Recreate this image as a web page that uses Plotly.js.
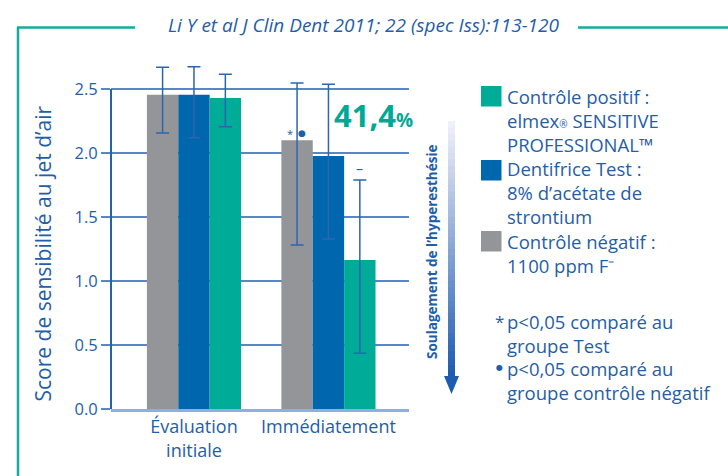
<!DOCTYPE html>
<html>
<head>
<meta charset="utf-8">
<script src="https://cdn.plot.ly/plotly-3.0.1.min.js"></script>
<style>
html,body{margin:0;padding:0;background:#fff;}
#chart{width:728px;height:476px;}
</style>
</head>
<body>
<div id="chart"></div>
<script>
// ---- data ----
var categories = ["Évaluation<br>initiale", "Immédiatement"];
var seriesNames = ["Contrôle négatif", "Dentifrice Test", "Contrôle positif"];
var negValues  = [2.455, 2.10];
var testValues = [2.455, 1.977];
var posValues  = [2.43, 1.164];
var negUpper  = [2.67, 2.547];
var negLower  = [2.156, 1.281];
var testUpper = [2.674, 2.537];
var testLower = [2.12, 1.328];
var posUpper  = [2.615, 1.789];
var posLower  = [2.205, 0.435];
var yTicks = [0, 0.5, 1.0, 1.5, 2.0, 2.5];
var yTickLabels = ["0.0", "0.5", "1.0", "1.5", "2.0", "2.5"];
var yTitle = "Score de sensibilité au jet d’air";

// ---- styles ----
var cGray = "#949599", cBlue = "#0066ae", cTeal = "#00ab97";
var txt = "#1f5ea8";
var errColor = "#2b66b0";
var FONT = "Open Sans, sans-serif";

// plot area in pixels (y range 0..2.75, 2.5 at pixel 89)
var L = 111, R = 409, T = 57, B = 409, W = 728, H = 476;
function px(x){ return (x - L) / (R - L); }
function py(y){ return (B - y) / (B - T); }

var xIdx = [0, 1];
function diff(a, b){ return a.map(function(v,i){ return Math.abs(v - b[i]); }); }

function barTrace(name, vals, up, lo, color){
  return {
    type: "bar", name: name, x: xIdx, y: vals, marker: {color: color},
    error_y: {type: "data", symmetric: false, array: diff(up, vals), arrayminus: diff(vals, lo),
              color: errColor, thickness: 1.5, width: 6.5},
    hoverinfo: "y"
  };
}

var data = [
  barTrace(seriesNames[0], negValues, negUpper, negLower, cGray),
  barTrace(seriesNames[1], testValues, testUpper, testLower, cBlue),
  barTrace(seriesNames[2], posValues, posUpper, posLower, cTeal)
];

var shapes = [];
// y axis line (only up to the top tick)
shapes.push({type:"line", xref:"paper", yref:"y", x0:0, x1:0, y0:0, y1:yTicks[yTicks.length-1], line:{color:"#2462ad", width:2}});
// teal frame
shapes.push({type:"line", xref:"paper", yref:"paper", x0:px(18), x1:px(18), y0:py(27), y1:py(476), line:{color:"#13ad9b", width:2.5}});
shapes.push({type:"line", xref:"paper", yref:"paper", x0:px(17), x1:px(135), y0:py(27.5), y1:py(27.5), line:{color:"#13ad9b", width:2.5}});
shapes.push({type:"line", xref:"paper", yref:"paper", x0:px(578), x1:px(728), y0:py(27.5), y1:py(27.5), line:{color:"#13ad9b", width:2.5}});

// gradient arrow
var arrTop = 121, arrBot = 377, nSeg = 40;
var c0 = [240, 240, 250], c1 = [30, 92, 176];
for (var i = 0; i < nSeg; i++){
  var f = i / (nSeg - 1);
  var col = "rgb(" + c0.map(function(v,k){ return Math.round(v + (c1[k]-v)*f); }).join(",") + ")";
  var ya = arrTop + (arrBot - arrTop) * i / nSeg, yb = arrTop + (arrBot - arrTop) * (i + 1) / nSeg + 0.6;
  shapes.push({type:"rect", xref:"paper", yref:"paper", x0:px(448), x1:px(455), y0:py(ya), y1:py(yb), line:{width:0}, fillcolor:col});
}
shapes.push({type:"path", xref:"paper", yref:"paper",
  path:"M " + px(444) + " " + py(376) + " L " + px(459) + " " + py(376) + " L " + px(451.5) + " " + py(394) + " Z",
  fillcolor:"#1d5cb0", line:{width:0}});

// legend squares
var legItems = [
  {color:cTeal, y0:86, text:"Contrôle positif :<br>elmex<span style='font-size:10px'>®</span> SENSITIVE<br>PROFESSIONAL™", cy:121},
  {color:cBlue, y0:160, text:"Dentifrice Test :<br>8% d’acétate de<br>strontium", cy:192.5},
  {color:cGray, y0:231, text:"Contrôle négatif :<br>1100 ppm F⁻", cy:253.5}
];
var annotations = [];
legItems.forEach(function(it){
  shapes.push({type:"rect", xref:"paper", yref:"paper", x0:px(481), x1:px(501.5), y0:py(it.y0), y1:py(it.y0+20.5), line:{width:0}, fillcolor:it.color});
  annotations.push({xref:"paper", yref:"paper", x:px(505), y:py(it.cy), xanchor:"left", yanchor:"middle", align:"left",
    text:it.text, showarrow:false, font:{family:FONT, size:18.5, color:txt}});
});

// footnotes
annotations.push({xref:"paper", yref:"paper", x:px(493), y:py(321), xanchor:"left", yanchor:"middle", text:"*", showarrow:false, font:{family:FONT, size:17, color:txt}});
annotations.push({xref:"paper", yref:"paper", x:px(505), y:py(333.5), xanchor:"left", yanchor:"middle", align:"left",
  text:"p<0,05 comparé au<br>groupe Test", showarrow:false, font:{family:FONT, size:18.5, color:txt}});
annotations.push({xref:"paper", yref:"paper", x:px(494), y:py(367), xanchor:"left", yanchor:"middle", text:"●", showarrow:false, font:{family:"DejaVu Sans", size:8, color:txt}});
annotations.push({xref:"paper", yref:"paper", x:px(505), y:py(380), xanchor:"left", yanchor:"middle", align:"left",
  text:"p<0,05 comparé au<br>groupe contrôle négatif", showarrow:false, font:{family:FONT, size:18.5, color:txt}});

// source title
annotations.push({xref:"paper", yref:"paper", x:px(364), y:py(25), xanchor:"center", yanchor:"middle",
  text:"<i>Li Y et al J Clin Dent 2011; 22 (spec Iss):113-120</i>", showarrow:false, font:{family:FONT, size:19, color:txt}});

// y axis title
annotations.push({xref:"paper", yref:"paper", x:px(42), y:py(253.5), xanchor:"center", yanchor:"middle", textangle:-90,
  text:yTitle, showarrow:false, font:{family:FONT, size:21, color:txt}});

// 41,4%
annotations.push({xref:"paper", yref:"paper", x:px(332), y:py(115), xanchor:"left", yanchor:"middle",
  text:"<b>41,4</b><span style='font-size:19px'><b>%</b></span>", showarrow:false, font:{family:FONT, size:31, color:"#00a896"}});

// significance markers
annotations.push({xref:"paper", yref:"paper", x:px(290), y:py(133), xanchor:"center", yanchor:"middle", text:"*", showarrow:false, font:{family:FONT, size:11, color:txt}});
annotations.push({xref:"paper", yref:"paper", x:px(302), y:py(132.5), xanchor:"center", yanchor:"middle", text:"●", showarrow:false, font:{family:"DejaVu Sans", size:9, color:txt}});
annotations.push({xref:"paper", yref:"paper", x:px(359), y:py(168), xanchor:"center", yanchor:"middle", text:"–", showarrow:false, font:{family:FONT, size:14, color:txt}});

// arrow label
annotations.push({xref:"paper", yref:"paper", x:px(432), y:py(252), xanchor:"center", yanchor:"middle", textangle:-90,
  text:"<b>Soulagement de l’hyperesthésie</b>", showarrow:false, font:{family:FONT, size:13.5, color:txt}});

var layout = {
  width: W, height: H,
  margin: {l: L, r: W - R, t: T, b: H - B, pad: 0},
  paper_bgcolor: "#fff", plot_bgcolor: "#fff",
  showlegend: false,
  barmode: "group", bargap: 0.30, bargroupgap: 0,
  font: {family: FONT, color: txt},
  xaxis: {
    range: [-0.617, 1.599], tickmode: "array", tickvals: xIdx, ticktext: categories,
    showline: true, linecolor: "#8eb0dc", linewidth: 2.5, showgrid: false, zeroline: false,
    ticks: "", tickfont: {family: FONT, size: 18, color: txt}, fixedrange: true
  },
  yaxis: {
    range: [0, 2.75], tickmode: "array", tickvals: yTicks, ticktext: yTickLabels,
    showline: false,
    showgrid: true, gridcolor: "#5886c6", gridwidth: 1.3, zeroline: false,
    ticks: "outside", ticklen: 9, tickwidth: 1.3, tickcolor: "#5886c6",
    tickfont: {family: FONT, size: 16.5, color: txt},
    fixedrange: true
  },
  shapes: shapes,
  annotations: annotations
};

Plotly.newPlot("chart", data, layout, {displayModeBar: false, staticPlot: true});
</script>
</body>
</html>
